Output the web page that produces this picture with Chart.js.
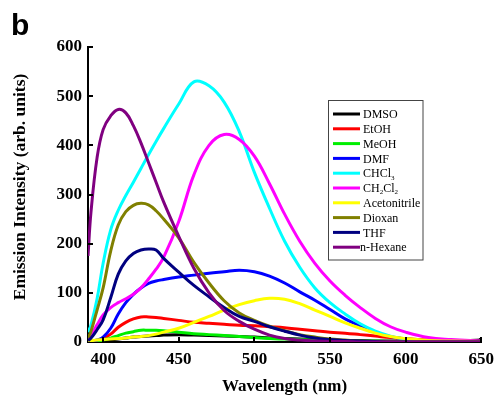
<!DOCTYPE html>
<html>
<head>
<meta charset="utf-8">
<script src="https://cdn.jsdelivr.net/npm/chart.js@4"></script>
<style>
  html, body { margin: 0; padding: 0; background: #fff; }
  #wrap { width: 501px; height: 395px; position: relative; }
</style>
</head>
<body>
<div id="wrap"><canvas id="c" width="501" height="395"></canvas></div>
<script>
// ---- data ----
const wavelengths = [390,392,396,400,405,410,415,420,425,430,435,440,450,460,470,480,490,500,510,520,530,540,550,560,570,580,590,600,615,630,650];
const DMSO      = [0,0,1,2,4,6,8,10,11,12,13,14,15,14,13,12,11,10,8,7,6,5,4,3,3,2,2,2,2,2,4];
const EtOH      = [0,1,3,7,16,30,40,47,51,51,50,48,44,40,38,36,34,33,31,29,26,23,20,18,15,12,9,7,4,2,1];
const MeOH      = [0,0,1,4,8,13,18,21,24,24,24,23,20,17,15,13,11,9,7,6,5,4,3,3,2,2,1,1,1,0,0];
const DMF       = [0,1,4,10,28,57,80,97,110,119,124,127,132,136,140,143,146,143,134,120,102,85,66,47,33,20,11,6,2,1,0];
const CHCl3     = [20,35,88,160,228,268,298,325,353,381,408,434,484,529,521,488,428,345,272,205,152,110,80,57,37,22,12,6,2,1,0];
const CH2Cl2    = [5,14,35,55,70,80,88,97,110,128,148,172,245,340,400,422,412,378,322,260,205,160,124,95,70,48,31,20,9,5,2];
const Acetonitrile = [2,3,4,5,6,7,8,10,11,13,16,20,28,40,52,65,76,84,89,87,78,65,52,39,28,18,11,7,3,2,1];
const Dioxan    = [8,22,65,110,185,238,265,278,282,279,267,250,212,162,120,84,59,44,32,23,15,10,6,4,2,1,1,0,0,0,0];
const THF       = [3,8,25,45,90,138,165,180,187,189,187,170,142,115,92,70,52,42,31,22,14,8,5,3,2,1,0,0,0,0,0];
const nHexane   = [175,265,375,432,460,473,466,440,405,365,325,285,215,150,100,64,42,26,14,7,4,2,1,1,0,0,0,0,0,0,0];

const seriesLabels = ['DMSO','EtOH','MeOH','DMF','CHCl₃','CH₂Cl₂','Acetonitrile','Dioxan','THF','n-Hexane'];
const seriesValues = [DMSO,EtOH,MeOH,DMF,CHCl3,CH2Cl2,Acetonitrile,Dioxan,THF,nHexane];
const seriesColors = ['#000000','#ff0000','#00ee00','#0000ff','#00ffff','#ff00ff','#ffff00','#808000','#000080','#800080'];
const xTicks = [400,450,500,550,600,650];
const yTicks = [0,100,200,300,400,500,600];

const datasets = seriesValues.map((vals, i) => ({
  label: seriesLabels[i],
  data: vals.map((v, j) => ({x: wavelengths[j], y: v})),
  borderColor: seriesColors[i],
  backgroundColor: seriesColors[i],
  borderWidth: 3,
  pointRadius: (ctx) => (i === 0 && ctx.dataIndex === vals.length - 1) ? 3 : 0,
  pointStyle: 'rect',
  pointBorderWidth: 0,
  tension: 0.4,
  fill: false,
  order: seriesValues.length - 1 - i
}));

const subDigits = {'₀':'0','₁':'1','₂':'2','₃':'3','₄':'4','₅':'5','₆':'6','₇':'7','₈':'8','₉':'9'};

function drawRichText(ctx, text, x, y, size) {
  let cx = x;
  for (const ch of text) {
    if (subDigits[ch]) {
      ctx.font = `${Math.round(size*0.62)}px "Liberation Serif", "Times New Roman", serif`;
      ctx.fillText(subDigits[ch], cx, y + size*0.3);
      cx += ctx.measureText(subDigits[ch]).width;
    } else {
      ctx.font = `${size}px "Liberation Serif", "Times New Roman", serif`;
      ctx.fillText(ch, cx, y);
      cx += ctx.measureText(ch).width;
    }
  }
}

const decor = {
  id: 'decor',
  afterDraw(chart) {
    const ctx = chart.ctx;
    const xs = chart.scales.x, ys = chart.scales.y;
    const area = chart.chartArea;
    ctx.save();
    // inward ticks
    ctx.strokeStyle = '#000';
    ctx.lineWidth = 2;
    ctx.beginPath();
    yTicks.forEach(v => {
      if (v === 0) return;
      const py = Math.round(ys.getPixelForValue(v));
      ctx.moveTo(area.left, py);
      ctx.lineTo(area.left + 5, py);
    });
    xTicks.forEach(v => {
      const px = Math.round(xs.getPixelForValue(v));
      ctx.moveTo(px, area.bottom);
      ctx.lineTo(px, area.bottom - 5);
    });
    ctx.stroke();

    // panel letter
    ctx.fillStyle = '#000';
    ctx.font = 'bold 30px "Liberation Sans", Arial, sans-serif';
    ctx.textAlign = 'left';
    ctx.textBaseline = 'alphabetic';
    ctx.fillText('b', 11, 35);

    // y axis title
    ctx.save();
    ctx.translate(20, 187);
    ctx.rotate(-Math.PI / 2);
    ctx.font = 'bold 17.5px "Liberation Serif", "Times New Roman", serif';
    ctx.textAlign = 'center';
    ctx.textBaseline = 'middle';
    ctx.fillText('Emission Intensity (arb. units)', 0, 0);
    ctx.restore();

    // legend box
    const bx = 328.5, by = 100.5, bw = 94.5, bh = 159.5;
    ctx.fillStyle = '#fff';
    ctx.fillRect(bx, by, bw, bh);
    ctx.strokeStyle = '#444';
    ctx.lineWidth = 1;
    ctx.strokeRect(bx, by, bw, bh);
    ctx.textAlign = 'left';
    ctx.textBaseline = 'middle';
    seriesLabels.forEach((lab, i) => {
      const ry = 114 + i * 14.8;
      ctx.strokeStyle = seriesColors[i];
      ctx.lineWidth = 3;
      ctx.beginPath();
      ctx.moveTo(333, ry);
      ctx.lineTo(360, ry);
      ctx.stroke();
      ctx.fillStyle = '#000';
      drawRichText(ctx, lab, i === 9 ? 360 : 363, ry + 1, 12);
    });
    ctx.restore();
  }
};

new Chart(document.getElementById('c'), {
  type: 'line',
  data: { datasets },
  options: {
    responsive: false,
    animation: false,
    devicePixelRatio: 1,
    layout: { padding: { top: 47, right: 15, left: 0, bottom: 0 } },
    plugins: { legend: { display: false }, tooltip: { enabled: false } },
    scales: {
      x: {
        type: 'linear',
        min: 390, max: 650,
        afterBuildTicks: (s) => { s.ticks = xTicks.map(v => ({ value: v })); },
        afterFit: (s) => { s.height = 53; },
        grid: { display: false, drawTicks: false },
        border: { display: true, color: '#000', width: 2 },
        ticks: {
          color: '#000', padding: 7, maxRotation: 0, autoSkip: false,
          font: { family: '"Liberation Serif", "Times New Roman", serif', size: 17, weight: 'bold' }
        },
        title: {
          display: true, text: 'Wavelength (nm)', color: '#000',
          padding: { top: 0, bottom: -2 },
          font: { family: '"Liberation Serif", "Times New Roman", serif', size: 17, weight: 'bold' }
        }
      },
      y: {
        min: 0, max: 600,
        afterBuildTicks: (s) => { s.ticks = yTicks.map(v => ({ value: v })); },
        afterFit: (s) => { s.width = 88; },
        grid: { display: false, drawTicks: false },
        border: { display: true, color: '#000', width: 2 },
        ticks: {
          color: '#000', padding: 6,
          font: { family: '"Liberation Serif", "Times New Roman", serif', size: 17, weight: 'bold' }
        }
      }
    }
  },
  plugins: [decor]
});
</script>
</body>
</html>
